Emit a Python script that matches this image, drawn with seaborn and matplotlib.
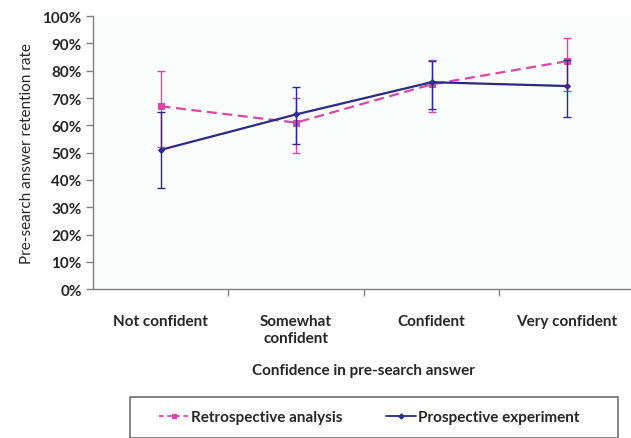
import numpy as np
import pandas as pd
import seaborn as sns
import matplotlib.pyplot as plt
from matplotlib.patches import Rectangle
from matplotlib.lines import Line2D

# values (percent)
categories = ['Not confident', 'Somewhat\nconfident', 'Confident', 'Very confident']
retro = [67, 61, 75, 83.5]
retro_lo = [52, 50, 65, 72.5]
retro_hi = [80, 70, 84, 92]
prosp = [51, 64, 75.8, 74.4]
prosp_lo = [37, 53, 66, 63]
prosp_hi = [65, 74, 83.5, 84]

pink = '#d848a6'
navy = '#2b2b86'

sns.set_style('white')
plt.rcParams['font.family'] = ['Lato', 'DejaVu Sans']

fig = plt.figure(figsize=(6.31, 4.39), dpi=100)
ax = fig.add_axes([0.147, 0.339, 0.859, 0.622])
ax.set_facecolor('#fafbfb')

pos = np.arange(len(categories))
df = pd.DataFrame({'x': np.concatenate([pos, pos]),
                   'y': np.array(retro + prosp) / 100,
                   'series': ['Retrospective analysis'] * 4 + ['Prospective experiment'] * 4})

sns.lineplot(data=df[df.series == 'Retrospective analysis'], x='x', y='y', ax=ax,
             color=pink, linestyle=(0, (4.5, 2.5)), linewidth=1.6, marker='s', markersize=4.2,
             markeredgecolor=pink, legend=False)
sns.lineplot(data=df[df.series == 'Prospective experiment'], x='x', y='y', ax=ax,
             color=navy, linewidth=1.6, marker='D', markersize=3,
             markeredgecolor=navy, legend=False)

r = np.array(retro) / 100
p = np.array(prosp) / 100
ax.errorbar(pos, r, yerr=[r - np.array(retro_lo) / 100, np.array(retro_hi) / 100 - r],
            fmt='none', ecolor=pink, elinewidth=1, capsize=3, capthick=1)
ax.errorbar(pos, p, yerr=[p - np.array(prosp_lo) / 100, np.array(prosp_hi) / 100 - p],
            fmt='none', ecolor=navy, elinewidth=1, capsize=3, capthick=1)

ax.set_xlim(-0.5, 3.5)
ax.set_ylim(0, 1)
ax.set_yticks(np.arange(0, 1.01, 0.1))
ax.set_yticklabels([f'{int(v)}%' for v in np.arange(0, 101, 10)], fontsize=11, fontweight='bold')
ax.set_xticks(pos)
ax.set_xticklabels(categories, fontsize=11, fontweight='bold', linespacing=1.25)
ax.set_xticks([0.5, 1.5, 2.5], minor=True)
ax.tick_params(axis='x', which='major', length=0, pad=18)
ax.tick_params(axis='x', which='minor', length=5, width=1, color='#808080', direction='out', bottom=True)
ax.tick_params(axis='y', length=5, width=1, color='#808080', direction='out', left=True, pad=3)

for s in ['top', 'right']:
    ax.spines[s].set_visible(False)
for s in ['left', 'bottom']:
    ax.spines[s].set_color('#808080')
    ax.spines[s].set_linewidth(1)

ax.set_xlabel('Confidence in pre-search answer', fontsize=11, fontweight='bold', labelpad=13)
ax.set_ylabel('Pre-search answer retention rate', fontsize=11, labelpad=6)

# legend box at the bottom
fig.patches.append(Rectangle((130 / 631, 0.0), 0.98 - 130 / 631, 41 / 439,
                             transform=fig.transFigure, facecolor='white',
                             edgecolor='#707070', linewidth=1.2))
handles = [Line2D([], [], color=pink, linestyle=(0, (2.5, 2)), marker='s', markersize=3.5, linewidth=1.3),
           Line2D([], [], color=navy, marker='D', markersize=2.5, linewidth=1.3)]
fig.legend(handles, ['Retrospective analysis', 'Prospective experiment'], ncol=2,
           loc='center', bbox_to_anchor=(0.585, 0.047), frameon=False,
           prop={'weight': 'bold', 'size': 11}, handlelength=2.0, handletextpad=0.1,
           columnspacing=2.8)

fig.savefig('out.png', dpi=100)
